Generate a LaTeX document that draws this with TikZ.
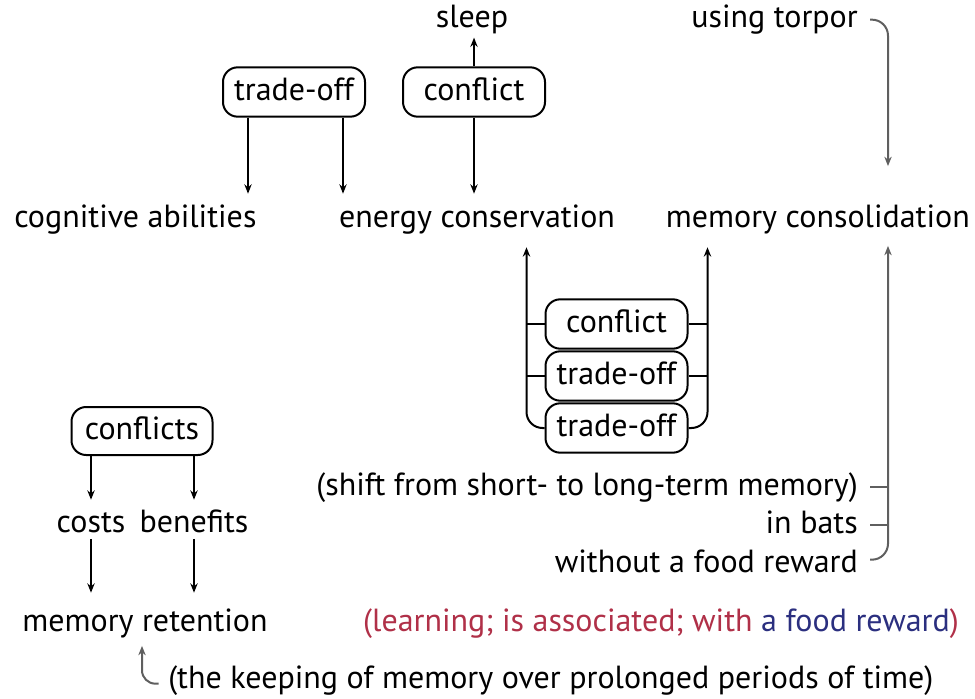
\documentclass[tikz,border=0pt]{standalone}
\usepackage{fontspec}
\setmainfont{PT Sans}
\usetikzlibrary{arrows.meta}
\definecolor{lred}{RGB}{176,48,72}
\definecolor{lblue}{RGB}{43,47,127}
\definecolor{gline}{RGB}{95,95,95}
\begin{document}
\begin{tikzpicture}[x=0.75pt,y=-0.75pt,
  every node/.style={font=\fontsize{24}{28}\selectfont, inner sep=0pt, text height=17.5pt, text depth=5pt},
  lbl/.style={anchor=base},
  pill/.style={draw, line width=1.5pt, rounded corners=11pt, minimum width=106.5pt, minimum height=37pt, anchor=center},
  ln/.style={line width=1.5pt},
  arr/.style={line width=1.5pt, -{Stealth[length=7pt,width=5.5pt]}},
  garr/.style={arr, draw=gline, fill=gline},
]
\useasboundingbox (0,0) rectangle (975,699);

% top
\node[lbl] (sleep) at (472,28) {sleep};
\node[lbl, anchor=base east] (torpor) at (858,28) {using torpor};
\node[pill] (to1) at (294,92) {trade-off};
\node[pill] (cf1) at (474,92) {conflict};
\node[lbl, anchor=base west] (cog) at (14,227) {cognitive abilities};
\node[lbl] (energy) at (477,227) {energy conservation};
\node[lbl, anchor=base east] (memc) at (970,227) {memory consolidation};

\draw[arr, shorten >=7.3pt] ([xshift=-34.5pt]to1.south) -- ([xshift=-34.5pt]to1.south |- cog.north);
\draw[arr, shorten >=7.3pt] ([xshift=36.75pt]to1.south) -- ([xshift=36.75pt]to1.south |- energy.north);
\draw[arr, shorten >=7.3pt] (cf1.south) -- (cf1.south |- energy.north);
\draw[arr, shorten >=2pt] (cf1.north) -- (cf1.north |- sleep.south);

% middle stack
\node[pill] (cf2) at (616.5,324) {conflict};
\node[pill] (to2) at (616.5,376) {trade-off};
\node[pill] (to3) at (616.5,428) {trade-off};
\coordinate (lx) at ([xshift=-13.5pt]to3.west);
\coordinate (rx) at ([xshift=14.25pt]to3.east);
\draw[arr, rounded corners=12pt, shorten >=10pt] (to3.west) -| (lx |- energy.south);
\draw[arr, rounded corners=12pt, shorten >=10pt] (to3.east) -| (rx |- memc.south);
\draw[ln] (cf2.west) -- (cf2.west -| lx);
\draw[ln] (to2.west) -- (to2.west -| lx);
\draw[ln] (cf2.east) -- (cf2.east -| rx);
\draw[ln] (to2.east) -- (to2.east -| rx);

% right bracket texts
\node[lbl, anchor=base east] (shift) at (858,495) {(shift from short- to long-term memory)};
\node[lbl, anchor=base east] (bats) at (858,533) {in bats};
\node[lbl, anchor=base east] (wo) at (858,572) {without a food reward};
\coordinate (bx) at (888,0);
\draw[garr, fill=none, rounded corners=12pt, shorten >=28pt] ([xshift=9pt]torpor.east) -| (bx |- memc.north);
\draw[garr, fill=none, rounded corners=12pt, shorten >=9pt] ([xshift=9pt,yshift=3pt]wo.east) -| (bx |- memc.south);
\draw[ln, draw=gline] ([xshift=9pt]shift.east) -- (shift.east -| bx);
\draw[ln, draw=gline] ([xshift=9pt]bats.east) -- (bats.east -| bx);

% bottom left
\node[pill, minimum width=105.75pt, minimum height=36pt] (cfs) at (142,431) {conflicts};
\node[lbl] (costs) at (91,532) {costs};
\node[lbl] (ben) at (194,532) {benefits};
\node[lbl] (memr) at (145,631) {memory retention};
\draw[arr, shorten >=6.5pt] (cfs.south -| costs.north) -- (costs.north);
\draw[arr, shorten >=6.5pt] (cfs.south -| ben.north) -- (ben.north);
\draw[arr, shorten >=11pt] (costs.south) -- (costs.south |- memr.north);
\draw[arr, shorten >=11pt] (ben.south) -- (ben.south |- memr.north);

% bottom texts
\node[lbl] (learn) at (661,631) {\textcolor{lred}{(learning; is associated; with }\textcolor{lblue}{a food reward}\textcolor{lred}{)}};
\node[lbl, anchor=base west] (keep) at (168,688) {(the keeping of memory over prolonged periods of time)};
\draw[garr, fill=none, rounded corners=10pt] ([xshift=-7pt,yshift=-3pt]keep.west) -| ([xshift=-2.25pt,yshift=-6pt]memr.south);
\end{tikzpicture}
\end{document}
